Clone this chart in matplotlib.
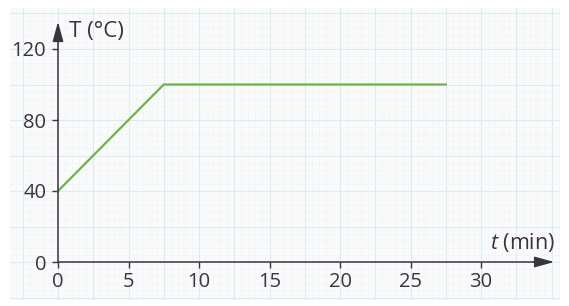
import numpy as np
import matplotlib
matplotlib.use('Agg')
import matplotlib.pyplot as plt
from matplotlib.ticker import MultipleLocator

plt.rcParams['font.family'] = ['Open Sans', 'DejaVu Sans']
plt.rcParams['mathtext.fontset'] = 'custom'
plt.rcParams['mathtext.it'] = 'Open Sans:italic'

# data
time_min = [0, 7.5, 27.5]
temp_c = [40, 100, 100]
x_ticks = [0, 5, 10, 15, 20, 25, 30]
y_ticks = [0, 40, 80, 120]

axis_col = '#3b3340'
line_col = '#6db34a'

# pixel mapping of the original scan
W, H = 569, 306
x0px, xs = 58, 14.1      # px of t=0, px per minute
y0px, ys = 262, 1.775    # px (from top) of T=0, px per degree

def px2x(p):
    return (p - x0px) / xs

def px2y(p):
    return (y0px - p) / ys

fig = plt.figure(figsize=(W / 100, H / 100), dpi=100)
fig.patch.set_facecolor('white')

# graph-paper background
bg = fig.add_axes([10 / W, 1 - 300 / H, 550 / W, 292 / H])
bg.set_xlim(px2x(10), px2x(560))
bg.set_ylim(px2y(300), px2y(8))
bg.set_facecolor('#fafafa')
bg.xaxis.set_major_locator(MultipleLocator(2.5))
bg.xaxis.set_minor_locator(MultipleLocator(0.5))
bg.yaxis.set_major_locator(MultipleLocator(20))
bg.yaxis.set_minor_locator(MultipleLocator(4))
bg.grid(which='major', color='#d9ecf5', lw=0.8)
bg.grid(which='minor', color='#e5eff4', lw=0.6, ls=(0, (1, 1.5)))
bg.tick_params(which='both', length=0, labelbottom=False, labelleft=False)
for s in bg.spines.values():
    s.set_visible(False)

# main axes over whole figure
ax = fig.add_axes([0, 0, 1, 1])
ax.patch.set_alpha(0)
ax.set_xlim(px2x(0), px2x(W))
ax.set_ylim(px2y(H), px2y(0))

ax.plot(time_min, temp_c, color=line_col, lw=1.6, solid_joinstyle='miter')

ax.spines['top'].set_visible(False)
ax.spines['right'].set_visible(False)
ax.spines['left'].set_position(('data', 0))
ax.spines['bottom'].set_position(('data', 0))
ax.spines['left'].set_bounds(0, 130)
ax.spines['bottom'].set_bounds(0, 34)
for s in ['left', 'bottom']:
    ax.spines[s].set_color(axis_col)
    ax.spines[s].set_linewidth(1.1)

ax.set_xticks(x_ticks)
ax.set_yticks(y_ticks)
ax.tick_params(direction='out', length=4.5, width=1, color=axis_col,
               labelcolor=axis_col, labelsize=14.5)
ax.tick_params(axis='x', pad=3)
ax.tick_params(axis='y', pad=4)

# arrow heads
head = '-|>,head_length=0.8,head_width=0.22'
ax.annotate('', xy=(px2x(557), 0), xytext=(33.5, 0),
            arrowprops=dict(arrowstyle=head, color=axis_col, lw=1.1,
                            mutation_scale=15), annotation_clip=False)
ax.annotate('', xy=(0, px2y(19)), xytext=(0, 129),
            arrowprops=dict(arrowstyle=head, color=axis_col, lw=1.1,
                            mutation_scale=15), annotation_clip=False)

ax.text(px2x(69), px2y(31), 'T (°C)', fontsize=16, color=axis_col,
        ha='left', va='center')
ax.text(px2x(555), px2y(243), r'$t$ (min)', fontsize=15.5, color=axis_col,
        ha='right', va='center')

fig.savefig('out.png', dpi=100)
